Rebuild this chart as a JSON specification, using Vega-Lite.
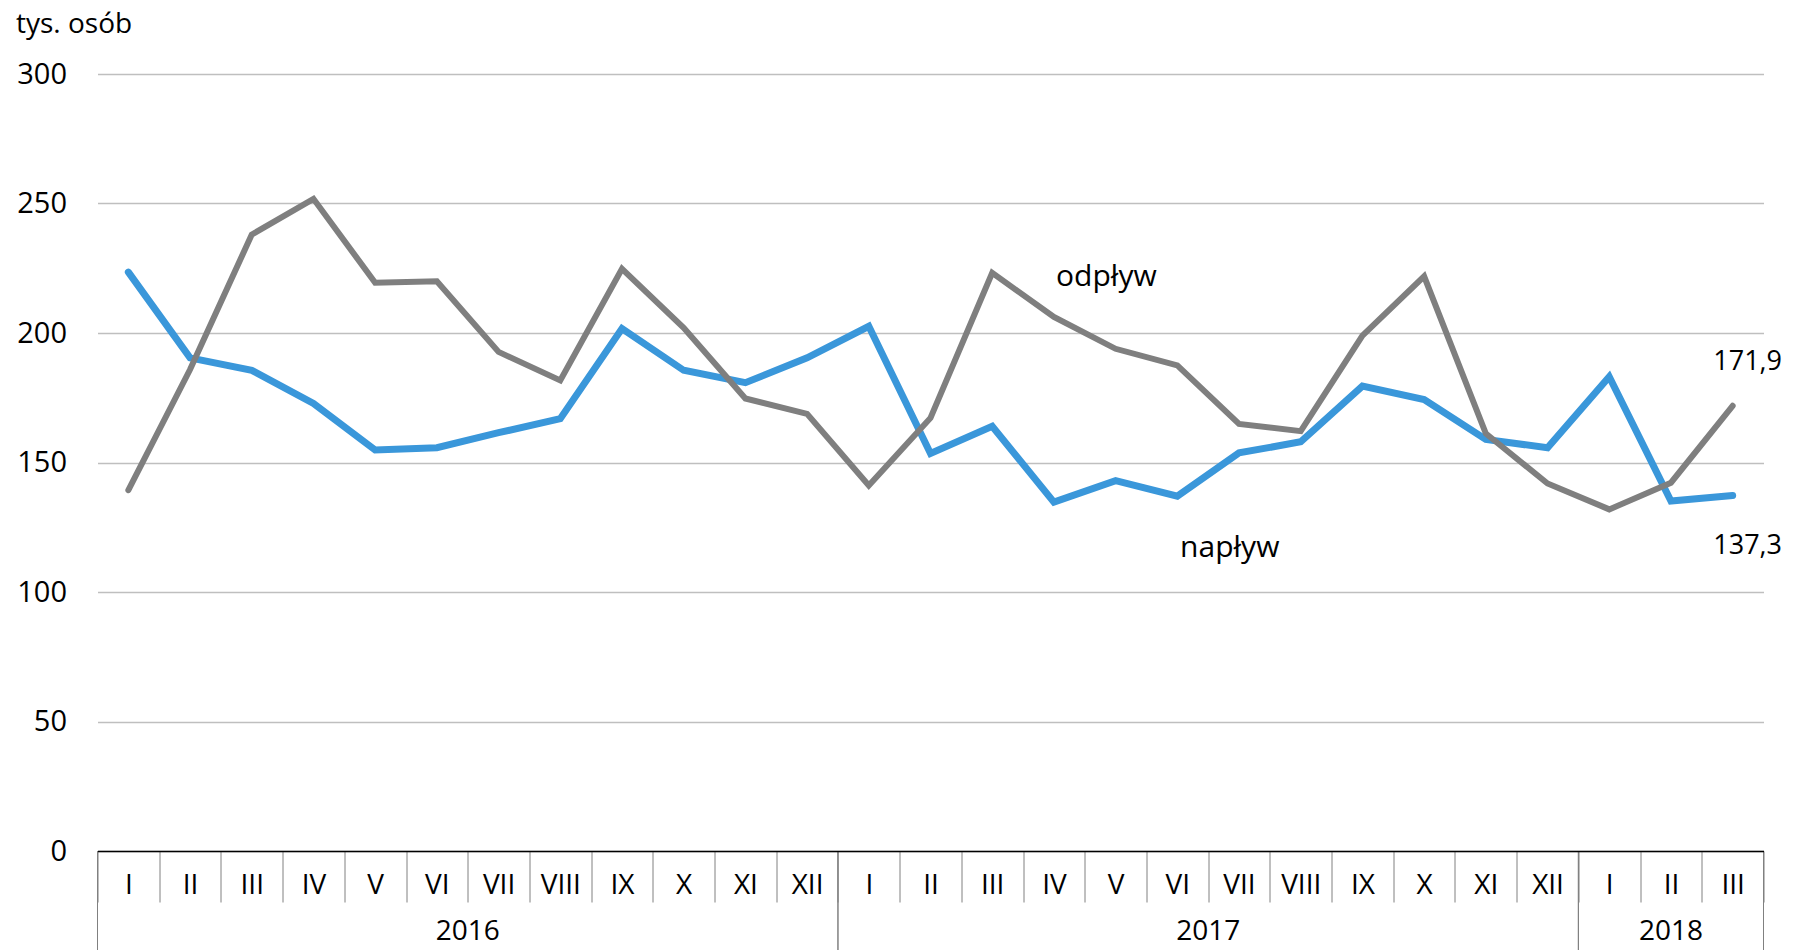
{
  "$schema": "https://vega.github.io/schema/vega-lite/v6.json",
  "width": 1666,
  "height": 777,
  "autosize": {"type": "none"},
  "padding": {"left": 97.5, "top": 74, "right": 34.5, "bottom": 99},
  "background": "white",
  "config": {
    "view": {"stroke": null},
    "font": "Open Sans"
  },
  "datasets": {
    "dane": [
      {"okres": "2016-01", "seria": "odpływ", "wartosc": 139.3},
      {"okres": "2016-02", "seria": "odpływ", "wartosc": 185.9},
      {"okres": "2016-03", "seria": "odpływ", "wartosc": 238.0},
      {"okres": "2016-04", "seria": "odpływ", "wartosc": 251.8},
      {"okres": "2016-05", "seria": "odpływ", "wartosc": 219.4},
      {"okres": "2016-06", "seria": "odpływ", "wartosc": 220.0},
      {"okres": "2016-07", "seria": "odpływ", "wartosc": 192.7},
      {"okres": "2016-08", "seria": "odpływ", "wartosc": 181.7},
      {"okres": "2016-09", "seria": "odpływ", "wartosc": 224.8},
      {"okres": "2016-10", "seria": "odpływ", "wartosc": 202.0},
      {"okres": "2016-11", "seria": "odpływ", "wartosc": 174.7},
      {"okres": "2016-12", "seria": "odpływ", "wartosc": 168.8},
      {"okres": "2017-01", "seria": "odpływ", "wartosc": 141.1},
      {"okres": "2017-02", "seria": "odpływ", "wartosc": 167.2},
      {"okres": "2017-03", "seria": "odpływ", "wartosc": 223.2},
      {"okres": "2017-04", "seria": "odpływ", "wartosc": 206.2},
      {"okres": "2017-05", "seria": "odpływ", "wartosc": 193.9},
      {"okres": "2017-06", "seria": "odpływ", "wartosc": 187.5},
      {"okres": "2017-07", "seria": "odpływ", "wartosc": 164.9},
      {"okres": "2017-08", "seria": "odpływ", "wartosc": 162.1},
      {"okres": "2017-09", "seria": "odpływ", "wartosc": 199.0},
      {"okres": "2017-10", "seria": "odpływ", "wartosc": 221.9},
      {"okres": "2017-11", "seria": "odpływ", "wartosc": 161.2},
      {"okres": "2017-12", "seria": "odpływ", "wartosc": 141.9},
      {"okres": "2018-01", "seria": "odpływ", "wartosc": 131.9},
      {"okres": "2018-02", "seria": "odpływ", "wartosc": 142.2},
      {"okres": "2018-03", "seria": "odpływ", "wartosc": 171.9},
      {"okres": "2016-01", "seria": "napływ", "wartosc": 223.5},
      {"okres": "2016-02", "seria": "napływ", "wartosc": 190.4},
      {"okres": "2016-03", "seria": "napływ", "wartosc": 185.6},
      {"okres": "2016-04", "seria": "napływ", "wartosc": 172.8},
      {"okres": "2016-05", "seria": "napływ", "wartosc": 154.8},
      {"okres": "2016-06", "seria": "napływ", "wartosc": 155.7},
      {"okres": "2016-07", "seria": "napływ", "wartosc": 161.5},
      {"okres": "2016-08", "seria": "napływ", "wartosc": 166.9},
      {"okres": "2016-09", "seria": "napływ", "wartosc": 201.7},
      {"okres": "2016-10", "seria": "napływ", "wartosc": 185.6},
      {"okres": "2016-11", "seria": "napływ", "wartosc": 180.8},
      {"okres": "2016-12", "seria": "napływ", "wartosc": 190.4},
      {"okres": "2017-01", "seria": "napływ", "wartosc": 202.6},
      {"okres": "2017-02", "seria": "napływ", "wartosc": 153.5},
      {"okres": "2017-03", "seria": "napływ", "wartosc": 164.0},
      {"okres": "2017-04", "seria": "napływ", "wartosc": 134.7},
      {"okres": "2017-05", "seria": "napływ", "wartosc": 143.0},
      {"okres": "2017-06", "seria": "napływ", "wartosc": 137.0},
      {"okres": "2017-07", "seria": "napływ", "wartosc": 153.7},
      {"okres": "2017-08", "seria": "napływ", "wartosc": 158.0},
      {"okres": "2017-09", "seria": "napływ", "wartosc": 179.5},
      {"okres": "2017-10", "seria": "napływ", "wartosc": 174.3},
      {"okres": "2017-11", "seria": "napływ", "wartosc": 158.9},
      {"okres": "2017-12", "seria": "napływ", "wartosc": 155.7},
      {"okres": "2018-01", "seria": "napływ", "wartosc": 183.1},
      {"okres": "2018-02", "seria": "napływ", "wartosc": 135.1},
      {"okres": "2018-03", "seria": "napływ", "wartosc": 137.3}
    ],
    "lata": [
      {"rok": "2016", "start": "2016-01", "koniec": "2016-12", "srodek": "2016-07"},
      {"rok": "2017", "start": "2017-01", "koniec": "2017-12", "srodek": "2017-07"},
      {"rok": "2018", "start": "2018-01", "koniec": "2018-03", "srodek": "2018-02"}
    ],
    "etykiety": [
      {"okres": "2017-05", "wartosc": 221.6, "tekst": "odpływ"},
      {"okres": "2017-07", "wartosc": 117.0, "tekst": "napływ"}
    ]
  },
  "layer": [
    {
      "data": {"name": "dane"},
      "transform": [{"filter": "datum.seria === 'napływ'"}],
      "mark": {"type": "line", "color": "#3a97da", "strokeWidth": 7, "strokeCap": "round", "strokeJoin": "miter"},
      "encoding": {
        "x": {
          "field": "okres", "type": "ordinal",
          "scale": {"type": "band", "paddingInner": 0, "paddingOuter": 0},
          "axis": {
            "title": null,
            "labelExpr": "isString(datum.value) ? ['I','II','III','IV','V','VI','VII','VIII','IX','X','XI','XII'][toNumber(slice(datum.value, 5)) - 1] : ''",
            "labelAngle": 0,
            "labelFont": "Open Sans",
            "labelFontSize": 28,
            "labelColor": "black",
            "labelBaseline": "middle",
            "labelPadding": -17,
            "labelOverlap": false,
            "labelBound": false,
            "tickBand": "extent",
            "tickSize": 51,
            "tickColor": "#808080",
            "tickWidth": 1,
            "domainColor": "black",
            "domainWidth": 1.5,
            "grid": false,
            "zindex": 1
          }
        },
        "y": {
          "field": "wartosc", "type": "quantitative",
          "scale": {"domain": [0, 300], "nice": false},
          "axis": {
            "values": [0, 50, 100, 150, 200, 250, 300],
            "grid": true,
            "gridColor": "#bfbfbf",
            "gridWidth": 1.3,
            "domain": false,
            "ticks": false,
            "labelFont": "Open Sans",
            "labelFontSize": 29,
            "labelColor": "black",
            "labelPadding": 31,
            "title": "tys. osób",
            "titleFont": "Open Sans",
            "titleFontSize": 28,
            "titleFontWeight": "normal",
            "titleColor": "black",
            "titleAngle": 0,
            "titleAlign": "left",
            "titleBaseline": "alphabetic",
            "titleX": -82,
            "titleY": -42
          }
        }
      }
    },
    {
      "data": {"name": "dane"},
      "transform": [{"filter": "datum.seria === 'odpływ'"}],
      "mark": {"type": "line", "color": "#7f7f7f", "strokeWidth": 6, "strokeCap": "round", "strokeJoin": "miter"},
      "encoding": {
        "x": {"field": "okres", "type": "ordinal"},
        "y": {"field": "wartosc", "type": "quantitative"}
      }
    },
    {
      "data": {"name": "lata"},
      "mark": {"type": "rule", "color": "#808080", "strokeWidth": 1},
      "encoding": {
        "x": {"field": "start", "type": "ordinal", "bandPosition": 0},
        "y": {"datum": 0, "type": "quantitative"},
        "y2": {"datum": -40}
      }
    },
    {
      "data": {"name": "lata"},
      "mark": {"type": "rule", "color": "#808080", "strokeWidth": 1},
      "encoding": {
        "x": {"field": "koniec", "type": "ordinal", "bandPosition": 1},
        "y": {"datum": 0, "type": "quantitative"},
        "y2": {"datum": -40}
      }
    },
    {
      "data": {"name": "lata"},
      "transform": [{"filter": "datum.rok !== '2018'"}],
      "mark": {"type": "text", "font": "Open Sans", "fontSize": 28, "color": "black", "align": "center", "baseline": "middle"},
      "encoding": {
        "x": {"field": "srodek", "type": "ordinal", "bandPosition": 0},
        "y": {"datum": -31.2, "type": "quantitative"},
        "text": {"field": "rok"}
      }
    },
    {
      "data": {"name": "lata"},
      "transform": [{"filter": "datum.rok === '2018'"}],
      "mark": {"type": "text", "font": "Open Sans", "fontSize": 28, "color": "black", "align": "center", "baseline": "middle"},
      "encoding": {
        "x": {"field": "srodek", "type": "ordinal", "bandPosition": 0.5},
        "y": {"datum": -31.2, "type": "quantitative"},
        "text": {"field": "rok"}
      }
    },
    {
      "data": {"name": "etykiety"},
      "mark": {"type": "text", "font": "Open Sans", "fontSize": 30, "color": "black", "align": "center", "baseline": "middle"},
      "encoding": {
        "x": {"field": "okres", "type": "ordinal", "bandPosition": 0.35},
        "y": {"field": "wartosc", "type": "quantitative"},
        "text": {"field": "tekst"}
      }
    },
    {
      "data": {"name": "dane"},
      "transform": [
        {"filter": "datum.okres === '2018-03' && datum.seria === 'odpływ'"},
        {"calculate": "replace(format(datum.wartosc, '.1f'), '.', ',')", "as": "opis"}
      ],
      "mark": {"type": "text", "font": "Open Sans", "fontSize": 27, "color": "black", "align": "center", "baseline": "middle", "dx": 15, "dy": -44},
      "encoding": {
        "x": {"field": "okres", "type": "ordinal"},
        "y": {"field": "wartosc", "type": "quantitative"},
        "text": {"field": "opis"}
      }
    },
    {
      "data": {"name": "dane"},
      "transform": [
        {"filter": "datum.okres === '2018-03' && datum.seria === 'napływ'"},
        {"calculate": "replace(format(datum.wartosc, '.1f'), '.', ',')", "as": "opis"}
      ],
      "mark": {"type": "text", "font": "Open Sans", "fontSize": 27, "color": "black", "align": "center", "baseline": "middle", "dx": 15, "dy": 51},
      "encoding": {
        "x": {"field": "okres", "type": "ordinal"},
        "y": {"field": "wartosc", "type": "quantitative"},
        "text": {"field": "opis"}
      }
    }
  ]
}
